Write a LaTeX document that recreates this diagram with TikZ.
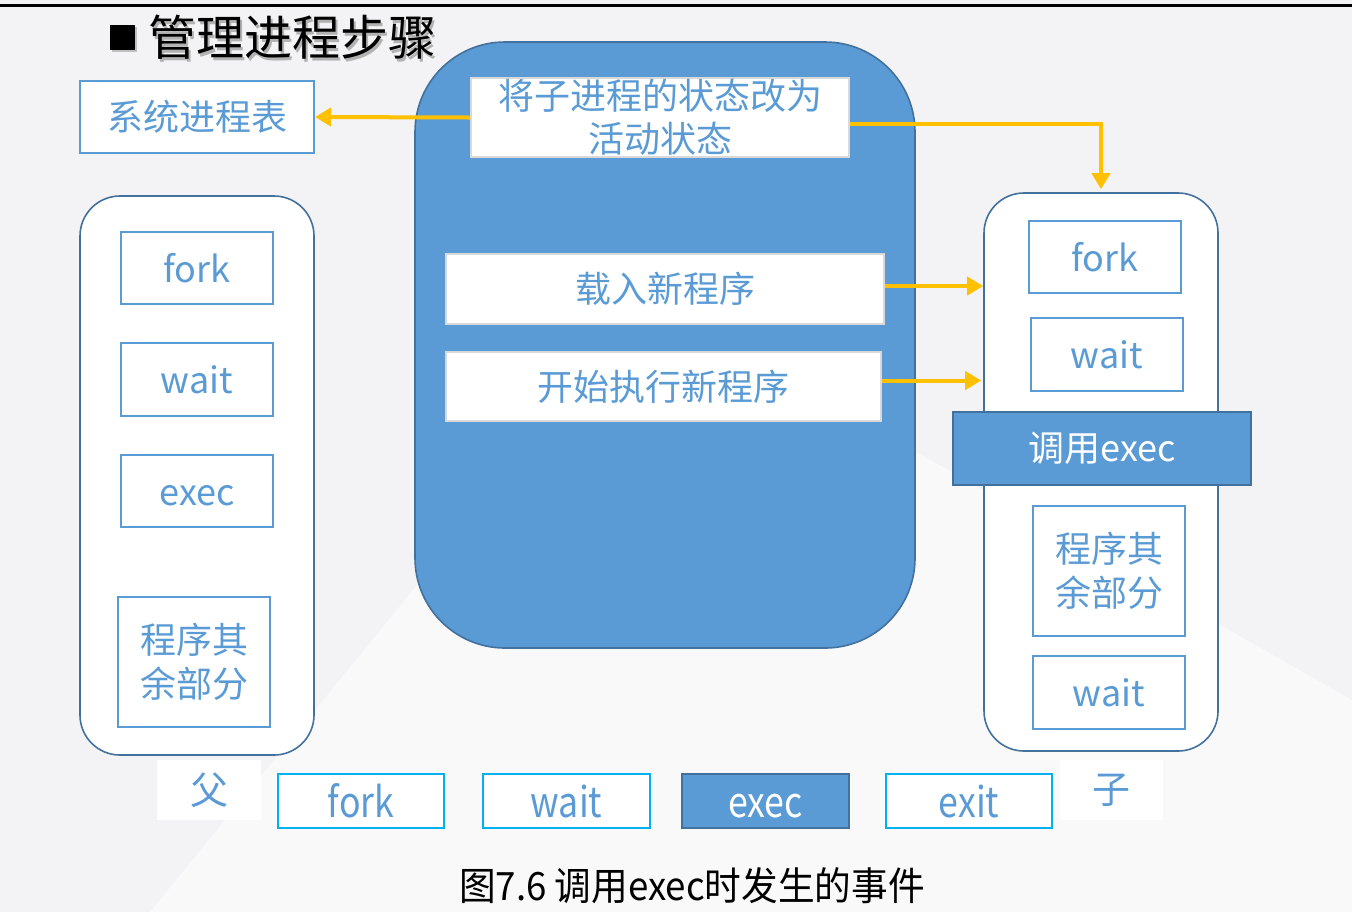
\documentclass[tikz,border=0pt]{standalone}
\usepackage{fontspec}
\setmainfont{Noto Sans CJK SC}
\usetikzlibrary{arrows.meta}
\definecolor{mblue}{HTML}{5B9BD5}
\definecolor{dblue}{HTML}{41719C}
\definecolor{cyanb}{HTML}{00B0F0}
\definecolor{orng}{HTML}{FFC000}
\definecolor{lgray}{HTML}{D9D9D9}
\definecolor{bg}{HTML}{F3F3F5}
\newcommand{\fs}[1]{\fontsize{#1}{1.22\dimexpr#1\relax}\selectfont}
\tikzset{
  box/.style={draw=mblue, line width=1pt, fill=white, text=mblue, inner sep=0pt, align=center, font=\fs{18pt}},
  wbox/.style={draw=lgray, line width=1pt, fill=white, text=mblue, inner sep=0pt, align=center, font=\fs{18pt}},
  rbox/.style={draw=dblue, line width=0.8pt, fill=white, rounded corners=20pt, inner sep=0pt},
  bbox/.style={draw=cyanb, line width=1pt, fill=white, text=mblue, inner sep=0pt, font=\fs{21pt}},
  plain/.style={fill=white, text=mblue, inner sep=0pt, font=\fs{19pt}},
  arr/.style={draw=orng, line width=2pt, -{Triangle[length=8pt,width=9pt]}},
}
\begin{document}
\begin{tikzpicture}[x=0.5pt,y=-0.5pt]
\useasboundingbox (0,0) rectangle (1352,912);
\fill[bg] (0,0) rectangle (1352,912);
\fill[white,opacity=0.5] (150,912) -- (650,300) -- (1352,700) -- (1352,912) -- cycle;
\draw[black,line width=1.5pt] (0,5) -- (1352,5);
% title
\fill[gray!50] (112,27) rectangle (137,52);
\fill[black] (110,25) rectangle (135,50);
\node[anchor=west, inner sep=0pt, text=gray!60, font=\fs{24pt}] at (150,40) {管理进程步骤};
\node[anchor=west, inner sep=0pt, text=black, font=\fs{24pt}] (title) at (148,37) {管理进程步骤};
% central block
\node[draw=dblue, line width=0.8pt, fill=mblue, rounded corners=45pt, minimum width=250pt, minimum height=303pt, inner sep=0pt] (big) at (665,345) {};
\node[wbox, minimum width=189pt, minimum height=39.5pt] (k1) at (660,117.5) {将子进程的状态改为\\[-0.5pt]活动状态};
\node[wbox, minimum width=219pt, minimum height=35pt] (load) at (665,289) {载入新程序};
\node[wbox, minimum width=217.5pt, minimum height=34.5pt] (start) at (663.5,386.5) {开始执行新程序};
% system table
\node[box, minimum width=117pt, minimum height=36pt] (sys) at (197,117) {系统进程表};
% left process
\node[rbox, minimum width=117pt, minimum height=279.5pt] (L) at (197,475.5) {};
\node[box, minimum width=76pt, minimum height=36pt] (Lfork) at (197,268) {fork};
\node[box, minimum width=76pt, minimum height=36.5pt] (Lwait) at (197,379.5) {wait};
\node[box, minimum width=76pt, minimum height=36pt] (Lexec) at (197,491) {exec\vphantom{k}};
\node[box, minimum width=76pt, minimum height=65pt] (Lrest) at (194,662) {程序其\\余部分};
% right process
\node[rbox, minimum width=117pt, minimum height=279pt] (R) at (1101,472) {};
\node[box, minimum width=76pt, minimum height=36pt] (Rfork) at (1105,257) {fork};
\node[box, minimum width=76pt, minimum height=36.5pt] (Rwait) at (1107,354.5) {wait};
\node[draw=dblue, line width=1pt, fill=mblue, text=white, inner sep=0pt, minimum width=149pt, minimum height=36.5pt, font=\fs{18pt}] (Rexec) at (1102,448.5) {调用exec};
\node[box, minimum width=76pt, minimum height=65pt] (Rrest) at (1109,571) {程序其\\余部分};
\node[box, minimum width=76pt, minimum height=36.5pt] (Rwait2) at (1109,692.5) {wait};
% arrows
\draw[arr] (k1.west) -- (sys.east);
\draw[arr] ([yshift=-3pt]k1.east) -| ([yshift=1.5pt]R.north);
\draw[arr] ([yshift=1.5pt]load.east) -- ([yshift=1.5pt]R.west |- load.east);
\draw[arr] ([yshift=3pt]start.east) -- ([xshift=-1pt,yshift=3pt]R.west |- start.east);
% bottom row
\node[plain, minimum width=52pt, minimum height=30pt] (fa) at (209,790) {父};
\node[bbox, minimum width=83pt, minimum height=27pt] (bfork) at (361,801) {\scalebox{0.85}[1]{fork}};
\node[bbox, minimum width=83.5pt, minimum height=27pt] (bwait) at (566.5,801) {\scalebox{0.85}[1]{wait}};
\node[draw=dblue, line width=1pt, fill=mblue, text=white, inner sep=0pt, minimum width=83.5pt, minimum height=27pt, font=\fs{21pt}] (bexec) at (765.5,801) {\scalebox{0.85}[1]{exec\vphantom{k}}};
\node[bbox, minimum width=83pt, minimum height=27pt] (bexit) at (969,801) {\scalebox{0.85}[1]{exit}};
\node[plain, minimum width=51.5pt, minimum height=30pt] (son) at (1111.5,790) {子};
% caption
\node[inner sep=0pt, text=black, font=\fs{19.5pt}] (cap) at (692,886) {\scalebox{0.94}[1]{图7.6 调用exec时发生的事件}};
\end{tikzpicture}
\end{document}
